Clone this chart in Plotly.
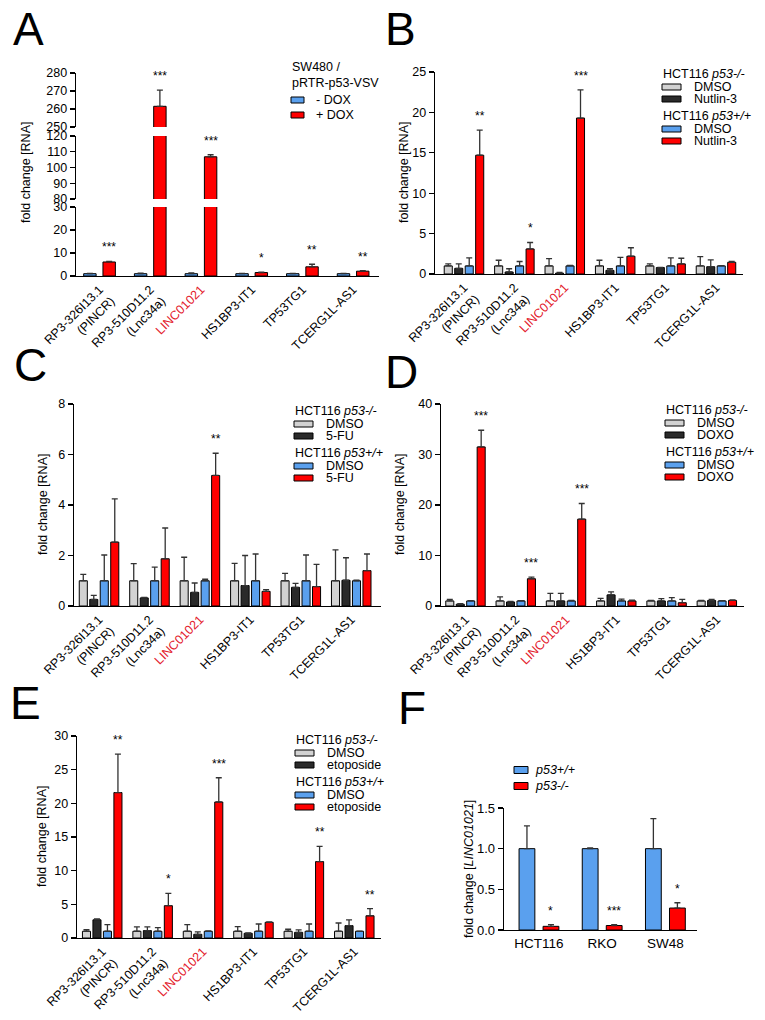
import plotly.graph_objects as go

FONT = "Liberation Sans, Arial, Helvetica, sans-serif"
W, H = 765, 1020

GREY = "#d2d2d2"
DARK = "#2a2a2a"
BLUE = "#5aa0ee"
RED = "#ff0000"

# ---------------- data ----------------
genes = ["RP3-326I13.1<br>(PINCR)", "RP3-510D11.2<br>(Lnc34a)",
         "<span style='color:#e3202c'>LINC01021</span>", "HS1BP3-IT1",
         "TP53TG1", "TCERG1L-AS1"]

# Panel A: SW480 / pRTR-p53-VSV
a_minus_dox = [1.0, 1.0, 1.0, 1.0, 1.0, 1.0]
a_minus_dox_err = [0.1, 0.2, 0.3, 0.1, 0.1, 0.1]
a_plus_dox = [6.1, 261.5, 106.8, 1.5, 4.0, 2.1]
a_plus_dox_err = [0.3, 9.0, 1.3, 0.2, 1.1, 0.2]
a_stars = ["***", "***", "***", "*", "**", "**"]

# Panel B: Nutlin-3
b_ko_dmso = [1.0, 1.0, 1.0, 1.0, 1.0, 1.0]
b_ko_dmso_err = [0.25, 0.7, 0.9, 0.7, 0.25, 1.15]
b_ko_nutlin = [0.7, 0.25, 0.1, 0.45, 0.8, 0.9]
b_ko_nutlin_err = [0.55, 0.4, 0.1, 0.2, 0.02, 0.85]
b_wt_dmso = [1.0, 1.0, 1.0, 1.0, 1.0, 1.0]
b_wt_dmso_err = [1.0, 0.55, 0.05, 1.05, 1.0, 0.02]
b_wt_nutlin = [14.7, 3.1, 19.3, 2.2, 1.25, 1.45]
b_wt_nutlin_err = [3.1, 0.8, 3.5, 1.05, 0.7, 0.12]
b_stars = ["**", "*", "***", "", "", ""]

# Panel C: 5-FU
c_ko_dmso = [1.0, 1.0, 1.0, 1.0, 1.0, 1.0]
c_ko_dmso_err = [0.25, 0.68, 0.93, 0.69, 0.29, 1.22]
c_ko_5fu = [0.26, 0.32, 0.54, 0.81, 0.74, 1.02]
c_ko_5fu_err = [0.16, 0.02, 0.37, 1.19, 0.16, 0.89]
c_wt_dmso = [1.0, 1.0, 1.0, 1.0, 1.0, 1.0]
c_wt_dmso_err = [1.02, 0.54, 0.06, 1.06, 1.02, 0.02]
c_wt_5fu = [2.53, 1.87, 5.17, 0.58, 0.77, 1.4]
c_wt_5fu_err = [1.71, 1.22, 0.88, 0.07, 0.88, 0.66]
c_stars = ["", "", "**", "", "", ""]

# Panel D: DOXO
d_ko_dmso = [1.0, 1.0, 1.0, 1.0, 1.0, 1.0]
d_ko_dmso_err = [0.3, 0.8, 1.5, 0.5, 0.1, 0.1]
d_ko_doxo = [0.35, 0.8, 1.0, 2.2, 1.0, 1.1]
d_ko_doxo_err = [0.1, 0.1, 1.5, 0.6, 0.45, 0.2]
d_wt_dmso = [1.0, 1.0, 1.0, 1.0, 1.0, 1.0]
d_wt_dmso_err = [0.05, 0.05, 0.1, 0.35, 0.65, 0.05]
d_wt_doxo = [31.5, 5.4, 17.2, 1.0, 0.65, 1.1]
d_wt_doxo_err = [3.3, 0.3, 3.1, 0.15, 0.65, 0.1]
d_stars = ["***", "***", "***", "", "", ""]

# Panel E: etoposide
e_ko_dmso = [1.0, 1.0, 1.0, 1.0, 1.0, 1.0]
e_ko_dmso_err = [0.24, 0.64, 0.98, 0.7, 0.3, 1.23]
e_ko_eto = [2.7, 1.1, 0.55, 0.7, 0.84, 1.83]
e_ko_eto_err = [0.15, 0.55, 0.35, 0.05, 0.36, 0.85]
e_wt_dmso = [1.0, 1.0, 1.0, 1.0, 1.0, 1.0]
e_wt_dmso_err = [1.0, 0.54, 0.05, 1.08, 1.08, 0.02]
e_wt_eto = [21.6, 4.8, 20.2, 2.33, 11.35, 3.3]
e_wt_eto_err = [5.7, 1.84, 3.6, 0.07, 2.25, 1.06]
e_stars = ["**", "*", "***", "", "**", "**"]

# Panel F: LINC01021 in p53 knockout lines
f_cells = ["HCT116", "RKO", "SW48"]
f_wt = [1.0, 1.0, 1.0]
f_wt_err = [0.28, 0.01, 0.37]
f_ko = [0.045, 0.055, 0.27]
f_ko_err = [0.02, 0.01, 0.065]
f_stars = ["*", "***", "*"]

# ---------------- helpers ----------------
def fx(p):
    return p / W


def fy(p):
    return 1 - p / H


fig = go.Figure()
layout_axes = {}
annotations = []
shapes = []


def axis_common():
    return dict(showline=True, linecolor="black", linewidth=1.3, showgrid=False,
                zeroline=False, automargin=False,
                tickfont=dict(family=FONT, size=12.5, color="black"))


def add_bars(xa, ya, values, errs, color, center, width):
    n = len(values)
    fig.add_trace(go.Bar(
        x=list(range(n)), y=values, xaxis=xa, yaxis=ya,
        offset=center - width / 2, width=width,
        marker=dict(color=color, line=dict(color="black", width=1)),
        error_y=dict(type="data", symmetric=False, array=errs, arrayminus=[0] * n,
                     color="#333333", thickness=1.3, width=3),
        showlegend=False, hoverinfo="skip"))


def add_stars(xa, ya, stars, values, errs, center, yref_fn=None):
    for i, s in enumerate(stars):
        if not s:
            continue
        top = values[i] + errs[i]
        yr = yref_fn(top) if yref_fn else ya
        annotations.append(dict(x=i + center, y=top, xref=xa, yref=yr, text=s,
                                showarrow=False, yanchor="middle", yshift=14,
                                font=dict(family=FONT, size=12, color="black")))


def ytitle(x, y, text):
    annotations.append(dict(x=fx(x), y=fy(y), xref="paper", yref="paper", text=text,
                            textangle=-90, showarrow=False, xanchor="center", yanchor="middle",
                            font=dict(family=FONT, size=12.5, color="black")))


def letter(x, y, text):
    annotations.append(dict(x=fx(x), y=fy(y), xref="paper", yref="paper", text=text,
                            showarrow=False, xanchor="center", yanchor="middle",
                            font=dict(family=FONT, size=46, color="black")))


def legend(x, y, rows, box_w=19, box_h=6, text_dx=31, size=12.5):
    for kind, text, color, dy in rows:
        yy = y + dy
        if kind == "h":
            annotations.append(dict(x=fx(x), y=fy(yy), xref="paper", yref="paper", text=text,
                                    showarrow=False, xanchor="left", yanchor="middle",
                                    font=dict(family=FONT, size=size, color="black")))
        else:
            shapes.append(dict(type="rect", xref="paper", yref="paper",
                               x0=fx(x + 1), x1=fx(x + 1 + box_w),
                               y0=fy(yy + box_h / 2), y1=fy(yy - box_h / 2),
                               fillcolor=color, line=dict(color="black", width=1)))
            annotations.append(dict(x=fx(x + text_dx), y=fy(yy), xref="paper", yref="paper",
                                    text=text, showarrow=False, xanchor="left", yanchor="middle",
                                    font=dict(family=FONT, size=size, color="black")))


def gene_xaxis(name, anchor, x0, x1, xr):
    d = axis_common()
    d.update(domain=[fx(x0), fx(x1)], anchor=anchor, range=xr, tickmode="array",
             tickvals=list(range(len(genes))), ticktext=genes, tickangle=-45, ticks="",
             tickfont=dict(family=FONT, size=12.5, color="black"))
    layout_axes[name] = d


def yaxis_def(name, anchor, y_top, y_bot, yr, dtick, fmt=None):
    d = axis_common()
    d.update(domain=[fy(y_bot), fy(y_top)], anchor=anchor, range=yr, dtick=dtick, tick0=0,
             ticks="outside", ticklen=5, tickwidth=1.3, tickcolor="black")
    if fmt:
        d["tickformat"] = fmt
    layout_axes[name] = d


# 4-bar layout (grey, dark, blue, red)
C4 = [-0.312, -0.104, 0.104, 0.312]
W4 = 0.16
# 2-bar layout
C2 = [-0.19, 0.19]
W2 = 0.245

# ---------------- Panel A (broken axis) ----------------
gene_xaxis("xaxis", "y", 76, 379, [-0.464, 5.51])
yaxis_def("yaxis", "x", 207, 276, [0, 30], 10)
yaxis_def("yaxis2", "x", 136, 199, [80, 120], 10)
yaxis_def("yaxis3", "x", 73, 127, [250, 280], 10)
for ya in ["y", "y2", "y3"]:
    add_bars("x", ya, a_minus_dox, a_minus_dox_err, BLUE, C2[0], W2)
    add_bars("x", ya, a_plus_dox, a_plus_dox_err, RED, C2[1], W2)
add_stars("x", "y", a_stars, a_plus_dox, a_plus_dox_err, C2[1],
          yref_fn=lambda v: "y" if v <= 30 else ("y2" if v <= 120 else "y3"))
ytitle(26, 172, "fold change [RNA]")
letter(29, 29, "A")
legend(290, 67, [("h", "SW480 /", None, 0), ("h", "pRTR-p53-VSV", None, 16),
                 ("i", "- DOX", BLUE, 33), ("i", "+ DOX", RED, 48)],
       box_w=13, box_h=6, text_dx=24)


def four_panel(xa, ya, xname, yname, x0, x1, xr, y_top, y_bot, yr, dtick, series, stars):
    gene_xaxis(xname, ya, x0, x1, xr)
    yaxis_def(yname, xa, y_top, y_bot, yr, dtick)
    colors = [GREY, DARK, BLUE, RED]
    for k, (vals, errs) in enumerate(series):
        add_bars(xa, ya, vals, errs, colors[k], C4[k], W4)
    add_stars(xa, ya, stars, series[3][0], series[3][1], C4[3])


def hct_rows(treat):
    return [("h", "HCT116 <i>p53-/-</i>", None, 0), ("i", "DMSO", GREY, 13),
            ("i", treat, DARK, 25), ("h", "HCT116 <i>p53+/+</i>", None, 42),
            ("i", "DMSO", BLUE, 55), ("i", treat, RED, 67)]


# ---------------- Panel B ----------------
four_panel("x2", "y4", "xaxis2", "yaxis4", 435, 743, [-0.575, 5.536], 72, 274, [0, 25], 5,
           [(b_ko_dmso, b_ko_dmso_err), (b_ko_nutlin, b_ko_nutlin_err),
            (b_wt_dmso, b_wt_dmso_err), (b_wt_nutlin, b_wt_nutlin_err)], b_stars)
ytitle(404, 173, "fold change [RNA]")
letter(400, 29, "B")
legend(661, 74, hct_rows("Nutlin-3"))

# ---------------- Panel C ----------------
four_panel("x3", "y5", "xaxis3", "yaxis5", 74, 381, [-0.496, 5.59], 404, 606, [0, 8], 2,
           [(c_ko_dmso, c_ko_dmso_err), (c_ko_5fu, c_ko_5fu_err),
            (c_wt_dmso, c_wt_dmso_err), (c_wt_5fu, c_wt_5fu_err)], c_stars)
ytitle(43, 505, "fold change [RNA]")
letter(30, 365, "C")
legend(293, 411, hct_rows("5-FU"))

# ---------------- Panel D ----------------
four_panel("x4", "y6", "xaxis4", "yaxis6", 441, 744, [-0.487, 5.54], 404, 606, [0, 40], 10,
           [(d_ko_dmso, d_ko_dmso_err), (d_ko_doxo, d_ko_doxo_err),
            (d_wt_dmso, d_wt_dmso_err), (d_wt_doxo, d_wt_doxo_err)], d_stars)
ytitle(400, 505, "fold change [RNA]")
letter(401, 372, "D")
legend(664, 410, hct_rows("DOXO"))

# ---------------- Panel E ----------------
four_panel("x5", "y7", "xaxis5", "yaxis7", 77, 381, [-0.5, 5.53], 736, 938, [0, 30], 5,
           [(e_ko_dmso, e_ko_dmso_err), (e_ko_eto, e_ko_eto_err),
            (e_wt_dmso, e_wt_dmso_err), (e_wt_eto, e_wt_eto_err)], e_stars)
ytitle(42, 837, "fold change [RNA]")
letter(26, 703, "E")
legend(294, 740, hct_rows("etoposide"))

# ---------------- Panel F ----------------
dxf = axis_common()
dxf.update(domain=[fx(504), fx(697)], anchor="y8", range=[-0.553, 2.5], tickmode="array",
           tickvals=list(range(len(f_cells))), ticktext=f_cells, ticks="",
           tickfont=dict(family=FONT, size=13.5, color="black"))
layout_axes["xaxis6"] = dxf
yaxis_def("yaxis8", "x6", 808, 930, [0, 1.5], 0.5, fmt=".1f")
layout_axes["yaxis8"]["tickfont"] = dict(family=FONT, size=13, color="black")
FC2 = [-0.19, 0.19]
FW = 0.25
add_bars("x6", "y8", f_wt, f_wt_err, BLUE, FC2[0], FW)
add_bars("x6", "y8", f_ko, f_ko_err, RED, FC2[1], FW)
add_stars("x6", "y8", f_stars, f_ko, f_ko_err, FC2[1])
ytitle(469, 869, "fold change [<i>LINC01021</i>]")
letter(412, 708, "F")
legend(513, 770, [("i", "<i>p53+/+</i>", BLUE, 0), ("i", "<i>p53-/-</i>", RED, 16)],
       box_w=14, box_h=7, text_dx=20)

fig.update_layout(
    template="none",
    width=W, height=H, autosize=False,
    margin=dict(l=0, r=0, t=0, b=0, pad=0, autoexpand=False),
    paper_bgcolor="white", plot_bgcolor="white",
    barmode="overlay", showlegend=False,
    font=dict(family=FONT, size=12, color="black"),
    annotations=annotations, shapes=shapes,
    **layout_axes)

fig.write_html("out.html",
               config={"displayModeBar": False, "staticPlot": True},
               post_script="document.body.style.margin='0px';document.body.style.padding='0px';")
